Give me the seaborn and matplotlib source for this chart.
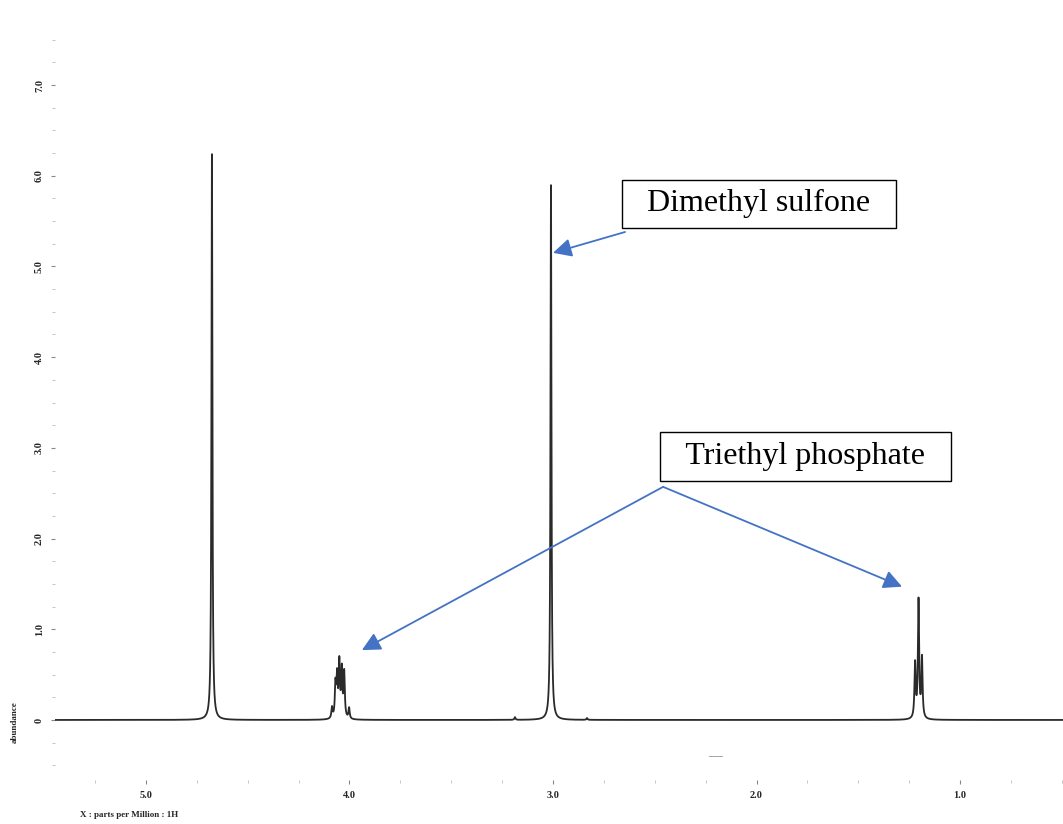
import numpy as np
import pandas as pd
import seaborn as sns
import matplotlib.pyplot as plt
from matplotlib.ticker import MultipleLocator, FixedLocator

# peak list (ppm, height, half width)
peak_ppm = [4.676, 3.010,
            4.086, 4.069, 4.061, 4.050, 4.038, 4.026, 4.002,
            1.221, 1.204, 1.187,
            3.187, 2.833]
peak_height = [6.24, 5.90,
               0.12, 0.36, 0.44, 0.60, 0.52, 0.50, 0.12,
               0.60, 1.30, 0.66,
               0.03, 0.02]
peak_hwhm = [0.0028, 0.0028,
             0.0035, 0.0035, 0.0035, 0.0035, 0.0035, 0.0035, 0.0035,
             0.0035, 0.0035, 0.0035,
             0.003, 0.003]

x_ticks = [5.0, 4.0, 3.0, 2.0, 1.0]
y_ticks = [0, 1, 2, 3, 4, 5, 6, 7]
y_tick_labels = ["0", "1.0", "2.0", "3.0", "4.0", "5.0", "6.0", "7.0"]

# Lorentzian line shape built from the peak list
ppm = np.linspace(5.45, 0.49, 30000)
intensity = np.zeros_like(ppm)
for p, h, w in zip(peak_ppm, peak_height, peak_hwhm):
    intensity += h * w**2 / ((ppm - p)**2 + w**2)
df = pd.DataFrame({"ppm": ppm, "abundance": intensity})

sns.set_style("white")
plt.rcParams['font.family'] = ['Liberation Serif', 'DejaVu Serif']

fig = plt.figure(figsize=(10.63, 8.24), dpi=100)
ax = fig.add_axes([55/1063, 1-780/824, 1-55/1063, (780-30)/824])

sns.lineplot(data=df, x="ppm", y="abundance", ax=ax, color="#2a2a2a",
             linewidth=1.3, estimator=None, sort=False)

ax.set_xlim(5.447, 0.494)
ax.set_ylim(-0.662, 7.607)
for s in ax.spines.values():
    s.set_visible(False)

ax.xaxis.set_major_locator(FixedLocator(x_ticks))
ax.xaxis.set_minor_locator(MultipleLocator(0.25))
ax.set_xticklabels([f"{v:.1f}" for v in x_ticks], fontsize=7.5, fontweight='bold')
ax.yaxis.set_major_locator(FixedLocator(y_ticks))
ax.yaxis.set_minor_locator(MultipleLocator(0.25))
ax.set_yticklabels(y_tick_labels, fontsize=7.5, fontweight='bold', rotation=90, va='center')
ax.tick_params(axis='both', which='major', length=3, width=0.8, color='#888888', pad=5)
ax.tick_params(axis='both', which='minor', length=2, width=0.6, color='#bbbbbb')
ax.tick_params(axis='x', which='both', bottom=True, direction='out')
ax.tick_params(axis='y', which='both', left=True, direction='out')
ax.set_xlabel("")
ax.set_ylabel("")

fig.text(80/1063, 1-815/824, "X : parts per Million : 1H", fontsize=6.5,
         fontweight='bold', ha='left', va='center')
fig.text(15/1063, 1-722/824, "abundance", fontsize=6.5, fontweight='bold',
         rotation=90, ha='center', va='center')
fig.text(715/1063, 1-757/824, "\u2014", fontsize=10, color='#888888', ha='center', va='center')

arrow_kw = dict(arrowstyle='-|>', color='#4472C4', lw=1.3, mutation_scale=28,
                shrinkA=0, shrinkB=0)
box_kw = dict(boxstyle='square,pad=0.3', facecolor='white', edgecolor='black', lw=1)

ax.annotate("", xy=(3.0, 5.15), xytext=(2.646, 5.38), arrowprops=arrow_kw)
ax.text(1.988, 5.69, "  Dimethyl sulfone  ", fontsize=23, color='black',
        ha='center', va='center', bbox=box_kw)

ax.annotate("", xy=(3.939, 0.77), xytext=(2.459, 2.57), arrowprops=arrow_kw)
ax.annotate("", xy=(1.285, 1.47), xytext=(2.459, 2.57), arrowprops=arrow_kw)
ax.text(1.759, 2.905, "  Triethyl phosphate  ", fontsize=23, color='black',
        ha='center', va='center', bbox=box_kw)

fig.savefig("out.png", dpi=100)
